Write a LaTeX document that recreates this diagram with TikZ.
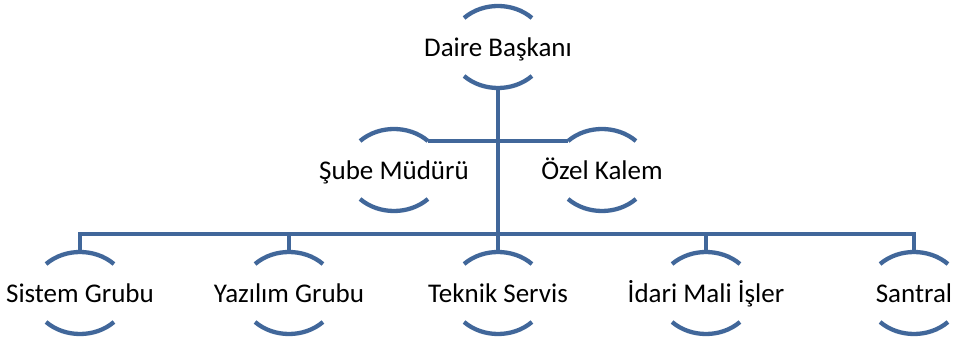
\documentclass[tikz,border=0pt]{standalone}
\usepackage{fontspec}
\setmainfont{Carlito}
\definecolor{orgblue}{RGB}{65,103,154}
\tikzset{
  lbl/.style={inner sep=0pt, text height=24pt, text depth=4pt, font=\fontsize{27}{32}\selectfont, text=black},
  conn/.style={draw=orgblue, line width=4.3pt, line join=miter},
  arcline/.style={draw=orgblue, line width=4.3pt}
}
\newcommand\halfarcs[1]{%
  \draw[arcline] ([shift={(45:48pt and 41pt)}]#1.center) arc[start angle=45,end angle=135,x radius=48pt,y radius=41pt];
  \draw[arcline] ([shift={(225:48pt and 41pt)}]#1.center) arc[start angle=225,end angle=315,x radius=48pt,y radius=41pt];
}
\begin{document}
\begin{tikzpicture}[x=1pt,y=1pt]
\useasboundingbox (0,0) rectangle (956,345);
% nodes
\node[lbl] (d) at (498,298) {Daire Başkanı};
\node[lbl] (s) at (394,175) {Şube Müdürü};
\node[lbl] (o) at (602,175) {Özel Kalem};
\node[lbl] (b1) at (80,52) {Sistem Grubu};
\node[lbl] (b2) at (289,52) {Yazılım Grubu};
\node[lbl] (b3) at (498,52) {Teknik Servis};
\node[lbl] (b4) at (706,52) {İdari Mali İşler};
\node[lbl] (b5) at (914,52) {Santral};
% arcs
\halfarcs{d}
\halfarcs{s}
\halfarcs{o}
\halfarcs{b1}
\halfarcs{b2}
\halfarcs{b3}
\halfarcs{b4}
\halfarcs{b5}
% connector points
\coordinate (bar) at (0,111);
\coordinate (dbot) at ([yshift=-41pt]d.center);
\coordinate (send) at ([shift={(45:48pt and 41pt)}]s.center);
\coordinate (oend) at ([shift={(135:48pt and 41pt)}]o.center);
\coordinate (t1) at ([yshift=41pt]b1.center);
\coordinate (t2) at ([yshift=41pt]b2.center);
\coordinate (t3) at ([yshift=41pt]b3.center);
\coordinate (t4) at ([yshift=41pt]b4.center);
\coordinate (t5) at ([yshift=41pt]b5.center);
% connectors
\draw[conn] (dbot) -- (dbot |- bar);
\draw[conn] (send) -- (oend);
\draw[conn] (t1) -- (t1 |- bar) -- (t5 |- bar) -- (t5);
\draw[conn] (t2) -- (t2 |- bar);
\draw[conn] (t3) -- (t3 |- bar);
\draw[conn] (t4) -- (t4 |- bar);
\end{tikzpicture}
\end{document}
